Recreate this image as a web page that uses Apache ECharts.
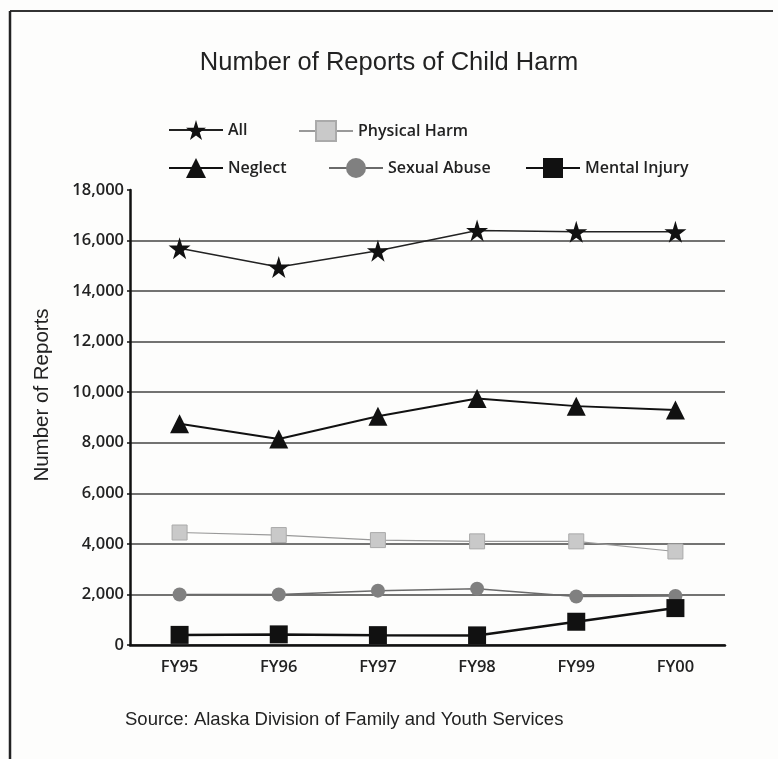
<!DOCTYPE html>
<html>
<head>
<meta charset="utf-8">
<title>Number of Reports of Child Harm</title>
<script src="https://cdn.jsdelivr.net/npm/echarts@6/dist/echarts.min.js"></script>
<style>
    html, body { margin: 0; padding: 0; background: #fdfdfc; }
    #chart { width: 778px; height: 759px; }
</style>
</head>
<body>
<div id="chart"></div>
<script>
// 数据
var years = ['FY95', 'FY96', 'FY97', 'FY98', 'FY99', 'FY00'];
var allReports = [15700, 14950, 15600, 16400, 16350, 16350];
var neglect = [8750, 8150, 9050, 9750, 9450, 9300];
var physicalHarm = [4450, 4350, 4150, 4100, 4100, 3700];
var sexualAbuse = [2000, 2000, 2150, 2230, 1920, 1940];
var mentalInjury = [400, 420, 390, 380, 920, 1460];

var starPath = 'path://M50,0 L61,35 L98,35 L68,57 L79,91 L50,70 L21,91 L32,57 L2,35 L39,35 Z';
var labelFont = '"Open Sans", "Noto Sans", sans-serif';
var plainFont = '"Liberation Sans", Arial, sans-serif';

var myChart = echarts.init(document.getElementById('chart'));

// 每个图例单独定位
function legendAt(name, left, top) {
    return {
        data: [name],
        left: left,
        top: top,
        itemWidth: 54,
        itemHeight: 25,
        textStyle: {
            fontFamily: labelFont,
            fontSize: 16,
            fontWeight: 600,
            color: '#222'
        }
    };
}

var option = {
    backgroundColor: '#fdfdfc',
    animation: false,
    title: {
        text: 'Number of Reports of Child Harm',
        left: 'center',
        top: 45,
        textStyle: {
            fontFamily: plainFont,
            fontSize: 25.5,
            fontWeight: 'normal',
            color: '#222'
        }
    },
    legend: [
        legendAt('All', 163, 115),
        legendAt('Physical Harm', 293, 115),
        legendAt('Neglect', 163, 153),
        legendAt('Sexual Abuse', 323, 153),
        legendAt('Mental Injury', 520, 153)
    ],
    grid: {
        left: 130,
        right: 53,
        top: 190,
        bottom: 114
    },
    xAxis: {
        type: 'category',
        data: years,
        boundaryGap: true,
        axisLine: { lineStyle: { color: '#111', width: 2.5 } },
        axisTick: { inside: true, length: 7, lineStyle: { color: '#111', width: 2 } },
        axisLabel: {
            fontFamily: labelFont,
            fontSize: 16.5,
            fontWeight: 600,
            color: '#222',
            margin: 14
        }
    },
    yAxis: {
        type: 'value',
        min: 0,
        max: 18000,
        interval: 2000,
        axisLine: { show: true, lineStyle: { color: '#111', width: 2.5 } },
        axisTick: { show: true, length: 3, lineStyle: { color: '#111', width: 1.5 } },
        axisLabel: {
            fontFamily: labelFont,
            fontSize: 16.5,
            fontWeight: 600,
            color: '#222',
            margin: 6,
            formatter: function (v) {
                return v.toLocaleString('en-US');
            }
        },
        splitLine: {
            lineStyle: {
                // 顶部18000不画线
                color: ['#444', '#444', '#444', '#444', '#444', '#444', '#444', '#444', '#444', 'rgba(0,0,0,0)'],
                width: 1.5
            }
        }
    },
    series: [
        {
            name: 'All',
            type: 'line',
            data: allReports,
            symbol: starPath,
            symbolSize: 22,
            z: 5,
            itemStyle: { color: '#111' },
            lineStyle: { color: '#222', width: 1.5 }
        },
        {
            name: 'Physical Harm',
            type: 'line',
            data: physicalHarm,
            symbol: 'rect',
            symbolSize: 15,
            itemStyle: { color: '#c9c9c9', borderColor: '#aaa', borderWidth: 1 },
            lineStyle: { color: '#999', width: 1.2 }
        },
        {
            name: 'Neglect',
            type: 'line',
            data: neglect,
            symbol: 'triangle',
            symbolSize: 19,
            z: 5,
            itemStyle: { color: '#111' },
            lineStyle: { color: '#111', width: 2 }
        },
        {
            name: 'Sexual Abuse',
            type: 'line',
            data: sexualAbuse,
            symbol: 'circle',
            symbolSize: 14,
            itemStyle: { color: '#808080' },
            lineStyle: { color: '#6a6a6a', width: 1.5 }
        },
        {
            name: 'Mental Injury',
            type: 'line',
            data: mentalInjury,
            symbol: 'rect',
            symbolSize: 18,
            z: 4,
            itemStyle: { color: '#111' },
            lineStyle: { color: '#111', width: 2.5 }
        }
    ],
    graphic: [
        {
            type: 'line',
            shape: { x1: 10, y1: 11, x2: 773, y2: 11 },
            style: { stroke: '#333', lineWidth: 2 }
        },
        {
            type: 'line',
            shape: { x1: 10, y1: 11, x2: 10, y2: 759 },
            style: { stroke: '#222', lineWidth: 2.5 }
        },
        {
            // 纵轴标题
            type: 'text',
            x: 42,
            y: 395,
            rotation: Math.PI / 2,
            style: {
                text: 'Number of Reports',
                fontFamily: plainFont,
                fontSize: 20.5,
                fill: '#222',
                align: 'center',
                verticalAlign: 'middle'
            }
        },
        {
            type: 'text',
            left: 125,
            top: 710,
            style: {
                text: 'Source: Alaska Division of Family and Youth Services',
                fontFamily: plainFont,
                fontSize: 18.5,
                fill: '#222'
            }
        }
    ]
};

myChart.setOption(option);
</script>
</body>
</html>
